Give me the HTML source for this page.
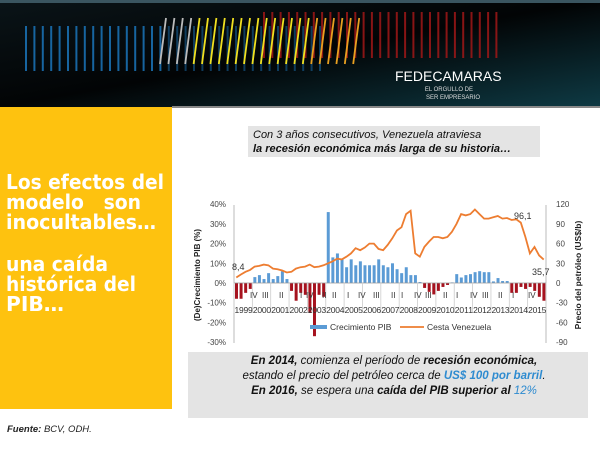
<!DOCTYPE html>
<html><head><meta charset="utf-8"><style>
html,body{margin:0;padding:0;width:600px;height:450px;overflow:hidden;background:#fff;font-family:"Liberation Sans",sans-serif}
</style></head><body>
<svg id="s" width="600" height="450" xmlns="http://www.w3.org/2000/svg" style="position:absolute;left:0;top:0">
<defs>
<linearGradient id="hd" x1="0" y1="0" x2="1" y2="1">
<stop offset="0" stop-color="#0a1418"/><stop offset="0.5" stop-color="#020405"/><stop offset="1" stop-color="#0e3a44"/>
</linearGradient>
</defs>
<rect x="0" y="0" width="600" height="107" fill="url(#hd)"/>
<rect x="0" y="0" width="600" height="3" fill="#3a5560"/>
<rect x="172" y="106" width="428" height="2" fill="#888"/>
<g id="hdr"></g>
<text x="395" y="81" fill="#fff" font-size="14" font-family="Liberation Sans">FEDECAMARAS</text>
<text x="473" y="91" fill="#ddd" font-size="6" text-anchor="end">EL ORGULLO DE</text>
<text x="480" y="99" fill="#ddd" font-size="6" text-anchor="end">SER EMPRESARIO</text>
<rect x="0" y="107" width="172" height="302" fill="#fec20f"/>
<g fill="#fff" font-size="20" font-weight="bold" font-family="DejaVu Sans,sans-serif">
<text x="6" y="189" textLength="158" lengthAdjust="spacingAndGlyphs">Los efectos del</text>
<text x="6" y="209" textLength="135" lengthAdjust="spacingAndGlyphs">modelo&#160;&#160; son</text>
<text x="6" y="229" textLength="150" lengthAdjust="spacingAndGlyphs">inocultables…</text>
<text x="6" y="271" textLength="102" lengthAdjust="spacingAndGlyphs">una caída</text>
<text x="6" y="291" textLength="130" lengthAdjust="spacingAndGlyphs">histórica del</text>
<text x="6" y="311" textLength="58" lengthAdjust="spacingAndGlyphs">PIB…</text>
</g>
<rect x="248" y="126" width="292" height="31" fill="#e4e4e4"/>
<text x="253" y="138" font-size="11" font-style="italic" fill="#111">Con 3 años consecutivos, Venezuela atraviesa</text>
<text x="253" y="152" font-size="11" font-style="italic" font-weight="bold" fill="#111">la recesión económica más larga de su historia…</text>
<g id="ch" font-size="8" fill="#444"></g>
<rect x="188" y="352" width="400" height="66" fill="#e4e4e4"/>
<g font-size="11.5" font-style="italic" text-anchor="middle" fill="#111">
<text x="394" y="364"><tspan font-weight="bold">En 2014,</tspan> comienza el período de <tspan font-weight="bold">recesión económica,</tspan></text>
<text x="394" y="379">estando el precio del petróleo cerca de <tspan font-weight="bold" fill="#2e8bd0">US$ 100 por barril</tspan>.</text>
<text x="394" y="394"><tspan font-weight="bold">En 2016,</tspan> se espera una <tspan font-weight="bold">caída del PIB superior al</tspan> <tspan fill="#2e8bd0">12%</tspan></text>
</g>
<text x="7" y="432" font-size="9.5" font-style="italic" fill="#222"><tspan font-weight="bold">Fuente:</tspan> BCV, ODH.</text>
</svg>
<script>
var NS="http://www.w3.org/2000/svg";
function el(p,t,a,txt){var e=document.createElementNS(NS,t);for(var k in a)e.setAttribute(k,a[k]);if(txt!=null)e.textContent=txt;p.appendChild(e);return e;}
var h=document.getElementById('hdr');
for(var i=0;i<36;i++){el(h,'rect',{x:25+i*8.4,y:26,width:2,height:45,fill:'#1a6fb0',opacity:i<17?0.9:0.5});}
for(var i=0;i<29;i++){var x=263+i*8.3;el(h,'rect',{x:x,y:12,width:2,height:46,fill:'#a01818',opacity:0.85});}
for(var i=0;i<24;i++){var x=160+i*8.4;el(h,'line',{x1:x,y1:64,x2:x+6,y2:18,stroke:i<4?'#bbb':(i>17?'#e8a020':'#f0e020'),'stroke-width':1.8});}
var c=document.getElementById('ch');
var L=234,R=546,y0=283,u=1.97;
function yv(v){return y0-v*u;}
function yr(v){return y0-v*u/3;}
el(c,'line',{x1:L,y1:205,x2:L,y2:343,stroke:'#bbb','stroke-width':1});
el(c,'line',{x1:R,y1:205,x2:R,y2:343,stroke:'#bbb','stroke-width':1});
for(var v=40;v>=-30;v-=10){el(c,'text',{x:226,y:yv(v)+3,'text-anchor':'end'},v+'%');}
for(var v=120;v>=-90;v-=30){el(c,'text',{x:556,y:yr(v)+3},v);}
var g=[-8,-8,-5,-3,3,4,2,5,2,3.5,6,2,-4,-9,-5,-6,-15,-27,-6,-7,36,13,15,12,8,12,9,11,9,9,9,12,9,8,10,7,5,8,4,4,0.5,-2.5,-4.5,-5.8,-4,-2,-1,0.3,4.5,2.8,4,4.5,5.5,6,5.5,5.5,0.8,2.5,1,1,-5,-5,-2,-3,-2,-4,-7,-9];
var w=(R-L)/68;
for(var i=0;i<68;i++){var v=g[i];var x=L+i*w+1;el(c,'rect',{x:x,y:v>0?yv(v):y0,width:w*0.65,height:Math.abs(v)*u,fill:v>0?'#5b9bd5':'#a6121e'});}
el(c,'line',{x1:L,y1:y0,x2:R,y2:y0,stroke:'#999','stroke-width':0.8});
for(var k=0;k<=17;k++){var x=L+k*4*w;el(c,'line',{x1:x,y1:y0,x2:x,y2:313,stroke:'#ccc','stroke-width':0.8});}
var yrs=['1999','2000','2001','2002','2003','2004','2005','2006','2007','2008','2009','2010','2011','2012','2013','2014','2015'];
for(var k=0;k<17;k++){el(c,'text',{x:L+k*4*w+0.5,y:313,'font-size':'8.5',fill:'#333',textLength:18.2},yrs[k]);}
var rl=[[250,'IV'],[262,'III'],[279,'II'],[300,'I'],[306,'IV'],[322,'II'],[332,'II'],[347,'I'],[358,'IV'],[373,'III'],[391,'II'],[401,'I'],[414,'IV'],[425,'III'],[443,'II'],[456,'I'],[470,'IV'],[482,'III'],[498,'II'],[512,'I'],[528,'IV']];
for(var j=0;j<rl.length;j++){el(c,'text',{x:rl[j][0],y:298,'font-size':'8',fill:'#333'},rl[j][1]);}
var p=[8.4,13,17,20,25,26,28,27,22,21,19,16,17,22,24,25,28,24,25,27,30,33,37,36,40,45,53,50,54,60,60,52,50,58,68,80,85,105,110,45,40,55,63,70,70,68,70,78,90,105,103,105,112,105,98,98,100,102,98,99,96,97,92,70,45,55,42,35.7];
var d='';for(var i=0;i<68;i++){d+=(i?'L':'M')+(L+i*w+w/2).toFixed(1)+','+yr(p[i]).toFixed(1);}
el(c,'path',{d:d,fill:'none',stroke:'#ed7d31','stroke-width':1.8});
el(c,'text',{x:232,y:270,'font-size':'9',fill:'#333'},'8,4');
el(c,'text',{x:514,y:219,'font-size':'9',fill:'#333'},'96,1');
el(c,'text',{x:532,y:275,'font-size':'9',fill:'#333'},'35,7');
el(c,'rect',{x:310,y:325,width:17,height:4,fill:'#5b9bd5'});
el(c,'text',{x:330,y:330,'font-size':'8.5',fill:'#333'},'Crecimiento PIB');
el(c,'line',{x1:400,y1:327,x2:424,y2:327,stroke:'#ed7d31','stroke-width':1.8});
el(c,'text',{x:427,y:330,'font-size':'8.5',fill:'#333'},'Cesta Venezuela');
el(c,'text',{transform:'translate(200,275) rotate(-90)','text-anchor':'middle','font-size':'8','font-weight':'bold',fill:'#222'},'(De)Crecimiento PIB (%)');
el(c,'text',{transform:'translate(581,275) rotate(-90)','text-anchor':'middle','font-size':'8.5','font-weight':'bold',fill:'#222'},'Precio del petróleo (US$/b)');
</script>
</body></html>
